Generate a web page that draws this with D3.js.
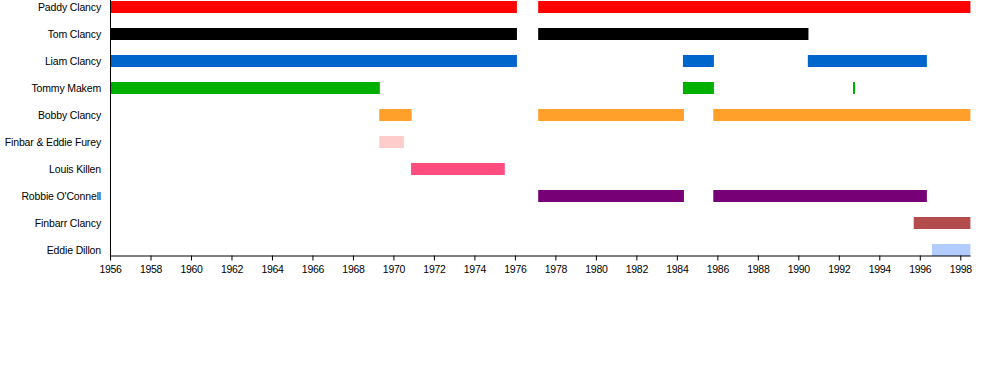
<html>
<head>
<script src="https://d3js.org/d3.v7.min.js"></script>
<style>
    body {
        margin: 0;
        background: #fff;
    }
    svg {
        display: block;
    }
    .axis text {
        font-family: "Liberation Sans", Arial, sans-serif;
        font-size: 10.5px;
        letter-spacing: -0.3px;
        fill: #000;
    }
    .label {
        font-family: "Liberation Sans", Arial, sans-serif;
        font-size: 10.5px;
        letter-spacing: -0.15px;
        fill: #000;
    }
</style>
</head>
<body>

<svg id='chart' width=1000 height=375></svg>

<script>

    // band members, top to bottom
    var members = ['Paddy Clancy', 'Tom Clancy', 'Liam Clancy', 'Tommy Makem', 'Bobby Clancy',
                   'Finbar & Eddie Furey', 'Louis Killen', "Robbie O'Connell", 'Finbarr Clancy', 'Eddie Dillon'];

    var colors = ['#ff0000', '#000000', '#0066cc', '#00b000', '#ffa02a',
                  '#ffcccc', '#ff4d80', '#770077', '#b34d4d', '#b3ccff'];

    // [start, end] periods per member (decimal years)
    var periods = [
        [[1956, 1976.1], [1977.15, 1998.5]],
        [[1956, 1976.1], [1977.15, 1990.5]],
        [[1956, 1976.1], [1984.3, 1985.83], [1990.47, 1996.35]],
        [[1956, 1969.33], [1984.3, 1985.83], [1992.7, 1992.8]],
        [[1969.3, 1970.9], [1977.15, 1984.35], [1985.8, 1998.5]],
        [[1969.3, 1970.52]],
        [[1970.87, 1975.5]],
        [[1977.15, 1984.35], [1985.8, 1996.35]],
        [[1995.7, 1998.5]],
        [[1996.6, 1998.5]]
    ];

    var tickYears = d3.range(1956, 1999, 2);

    var svg = d3.select('#chart');

    var x = d3.scaleLinear()
            .domain([1956, 1998.48])
            .range([110, 970]);

    var y = d3.scalePoint()
            .domain(members)
            .range([7, 250]);

    var barH = 12;

    var bars = [];
    members.forEach(function(m, i) {
        periods[i].forEach(function(p) {
            bars.push({name: m, color: colors[i], start: p[0], end: p[1]});
        });
    });

    svg.selectAll('.bar')
        .data(bars)
      .enter()
        .append('rect')
        .attr('class', 'bar')
        .attr('x', function(d) { return x(d.start); })
        .attr('y', function(d) { return y(d.name) - barH / 2; })
        .attr('width', function(d) { return x(d.end) - x(d.start); })
        .attr('height', barH)
        .attr('fill', function(d) { return d.color; });

    svg.selectAll('.label')
        .data(members)
      .enter()
        .append('text')
        .attr('class', 'label')
        .attr('x', 101)
        .attr('y', function(d) { return y(d); })
        .attr('dy', '0.35em')
        .attr('text-anchor', 'end')
        .text(function(d) { return d; });

    var xAxis = d3.axisBottom(x)
        .tickValues(tickYears)
        .tickFormat(d3.format('d'))
        .tickSize(5)
        .tickSizeOuter(0);

    var gx = svg.append('g')
        .attr('class', 'axis')
        .attr('transform', 'translate(0,255.5)')
        .call(xAxis);
    gx.select('.domain').attr('stroke', '#000');
    gx.selectAll('.tick line').attr('stroke', '#000');
    gx.selectAll('.tick text').attr('dy', '0.9em');

    // vertical axis line
    svg.append('line')
        .attr('x1', 110.5).attr('x2', 110.5)
        .attr('y1', 0).attr('y2', 256)
        .attr('stroke', '#000');

</script>
</body>
</html>
